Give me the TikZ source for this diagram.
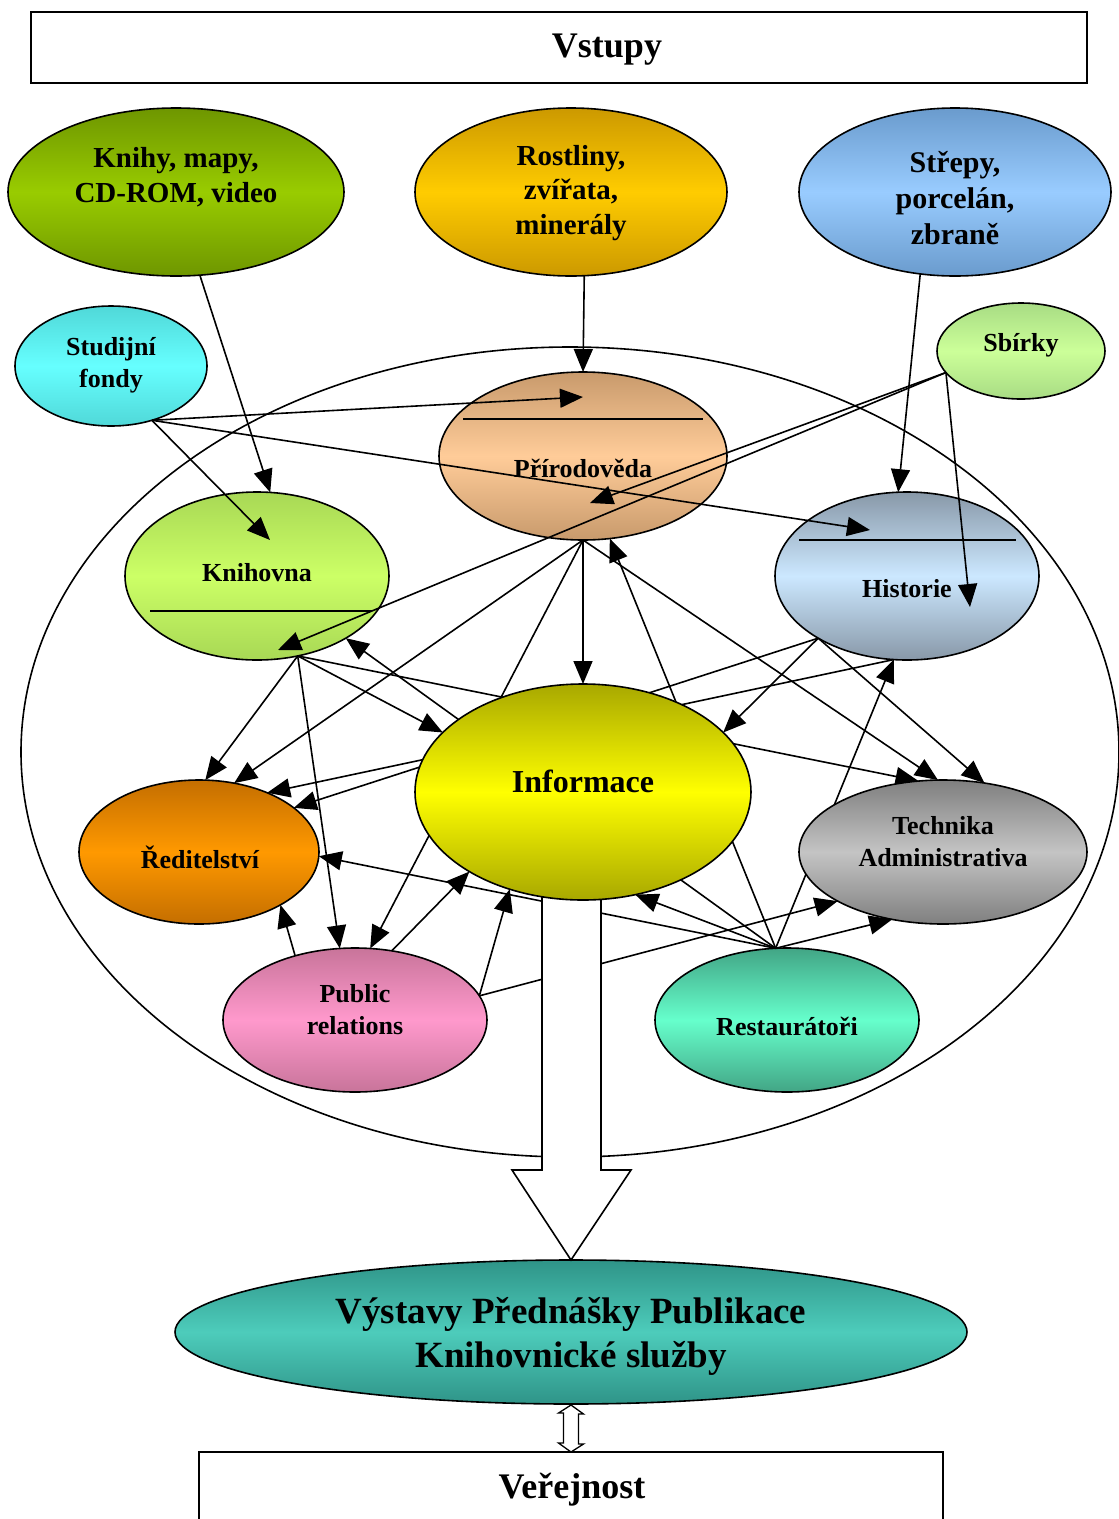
\documentclass[tikz,border=0pt]{standalone}
\usepackage{fontspec}
\setmainfont{Liberation Serif}
\usetikzlibrary{shapes.geometric,arrows.meta,calc}
\pgfdeclarelayer{back}
\pgfdeclarelayer{mid}
\pgfdeclarelayer{edges}
\pgfdeclarelayer{shaft}
\pgfsetlayers{back,mid,edges,shaft,main}
\definecolor{kmcA}{HTML}{6E9600}\definecolor{kmcB}{HTML}{99CC00}
\definecolor{rzmA}{HTML}{CC9900}\definecolor{rzmB}{HTML}{FFCC00}
\definecolor{spzA}{HTML}{6A9BCD}\definecolor{spzB}{HTML}{99CCFF}
\definecolor{sfA}{HTML}{50D8D8}\definecolor{sfB}{HTML}{66FFFF}
\definecolor{sbA}{HTML}{A8DC84}\definecolor{sbB}{HTML}{CCFF99}
\definecolor{prA}{HTML}{C89A6C}\definecolor{prB}{HTML}{FFCC99}
\definecolor{knA}{HTML}{A8D855}\definecolor{knB}{HTML}{CCFF66}
\definecolor{hiA}{HTML}{8898A8}\definecolor{hiB}{HTML}{CCE8FF}
\definecolor{infA}{HTML}{A8A800}\definecolor{infB}{HTML}{FFFF00}
\definecolor{redA}{HTML}{C46E00}\definecolor{redB}{HTML}{FF9900}
\definecolor{techA}{HTML}{7F7F7F}\definecolor{techB}{HTML}{C4C4C4}
\definecolor{pubA}{HTML}{C8749A}\definecolor{pubB}{HTML}{FF99CC}
\definecolor{resA}{HTML}{42A585}\definecolor{resB}{HTML}{66FFCC}
\definecolor{outA}{HTML}{2F9488}\definecolor{outB}{HTML}{4DCCBB}
\tikzset{
  ell/.style={ellipse, draw, line width=1.6pt, inner sep=0pt, outer sep=0pt},
  grad/.style 2 args={top color=#1, bottom color=#1, middle color=#2},
  arr/.style={-{Triangle[length=23pt,width=19pt]}, line width=1.6pt},
  ln/.style={line width=1.6pt},
  tsm/.style={font=\bfseries\fontsize{26}{32}\selectfont, align=center, inner sep=0pt},
  tmd/.style={font=\bfseries\fontsize{29}{34.5}\selectfont, align=center, inner sep=0pt},
  tinf/.style={font=\bfseries\fontsize{32}{38}\selectfont, align=center, inner sep=0pt},
  tbig/.style={font=\bfseries\fontsize{37}{44}\selectfont, align=center, inner sep=0pt},
  ttl/.style={font=\bfseries\fontsize{36}{42}\selectfont, align=center, inner sep=0pt},
  boxn/.style={draw, line width=1.6pt, inner sep=0pt, outer sep=0pt, fill=white},
}
\begin{document}
\begin{tikzpicture}[x=1pt,y=-1pt]
\useasboundingbox (0,0) rectangle (1119,1519);
% ---------- background ellipse ----------
\begin{pgfonlayer}{back}
\node[ell, minimum width=1098pt, minimum height=810pt] (big) at (570,752) {};
\end{pgfonlayer}
% ---------- boxes ----------
\node[boxn, minimum width=1056pt, minimum height=71pt] (vst) at (559,47.5) {};
\node[ttl] (vstT) at (607,50) {Vstupy};
\node[boxn, minimum width=744pt, minimum height=140pt, anchor=north] (ver) at (571,1452) {};
\node[ttl] (verT) at (572,1490) {Veřejnost};
% ---------- ellipses under the connectors ----------
\begin{pgfonlayer}{mid}
\node[ell, grad={kmcA}{kmcB}, minimum width=336pt, minimum height=168pt] (kmc) at (176,192) {};
\node[ell, grad={rzmA}{rzmB}, minimum width=312pt, minimum height=168pt] (rzm) at (571,192) {};
\node[ell, grad={spzA}{spzB}, minimum width=312pt, minimum height=168pt] (spz) at (955,192) {};
\node[ell, grad={sfA}{sfB}, minimum width=192pt, minimum height=120pt] (sf) at (111,366) {};
\node[ell, grad={sbA}{sbB}, minimum width=168pt, minimum height=96pt] (sb) at (1021,351) {};
\node[ell, grad={prA}{prB}, minimum width=288pt, minimum height=168pt] (pr) at (583,456) {};
\node[ell, grad={knA}{knB}, minimum width=264pt, minimum height=168pt] (kn) at (257,576) {};
\node[ell, grad={hiA}{hiB}, minimum width=264pt, minimum height=168pt] (hi) at (907,576) {};
\node[ell, grad={redA}{redB}, minimum width=240pt, minimum height=144pt] (red) at (199,852) {};
\node[ell, grad={pubA}{pubB}, minimum width=264pt, minimum height=144pt] (pub) at (355,1020) {};
\node[ell, grad={resA}{resB}, minimum width=264pt, minimum height=144pt] (res) at (787,1020) {};
\node[ell, grad={outA}{outB}, minimum width=792pt, minimum height=144pt] (out) at (571,1332) {};
\draw[ln] (463,419) -- (703,419);
\draw[ln] (150,611) -- (372,611);
\draw[ln] (799,540) -- (1016,540);
\end{pgfonlayer}
% ---------- ellipses above the connectors ----------
\node[ell, grad={infA}{infB}, minimum width=336pt, minimum height=216pt] (inf) at (583,792) {};
\node[ell, grad={techA}{techB}, minimum width=288pt, minimum height=144pt] (tech) at (943,852) {};
% ---------- inner end points ----------
\coordinate (prIn1) at (583,397);
\coordinate (prIn2) at (590,503);
\coordinate (knIn1) at (270,540);
\coordinate (knIn2) at (278,650);
\coordinate (hiIn1) at (870,530);
\coordinate (hiIn2) at (970,607);
% ---------- connectors ----------
\begin{pgfonlayer}{edges}
\draw[arr] (kmc.-74) -- (kn.81);
\draw[arr] (rzm.-81) -- (pr.north);
\draw[arr] (spz.-113) -- (hi.96);
\draw[arr] (sf.-53) -- (prIn1);
\draw[arr] (sf.-53) -- (knIn1);
\draw[arr] (sf.-53) -- (hiIn1);
\draw[arr] (sb.196) -- (prIn2);
\draw[arr] (sb.196) -- (knIn2);
\draw[arr] (sb.196) -- (hiIn2);
% from Přírodověda
\draw[arr] (pr.south) -- (inf.north);
\draw[arr] (pr.south) -- (red.63);
\draw[arr] (pr.south) -- (pub.78);
\draw[arr] (pr.south) -- (tech.94);
% from Knihovna
\draw[arr] (kn.-63) -- (red.85);
\draw[arr] (kn.-63) -- (pub.102);
\draw[arr] (kn.-63) -- (inf.157);
\draw[arr] (kn.-63) -- (tech.109);
% from Historie
\draw[arr] (hi.-145) -- (inf.23);
\draw[arr] (hi.-145) -- (red.25);
\draw[arr] (hi.-145) -- (tech.59);
\draw[arr] (hi.-99) -- (red.41);
% from Public relations
\draw[arr] (pub.133) -- (red.-33);
\draw[arr] (pub.62) -- (inf.-145);
\draw[arr] (pub.11) -- (inf.-127);
\draw[arr] (pub.11) -- (tech.-155);
% from Restaurátoři
\draw[arr] (res.99) -- (pr.-72);
\draw[arr] (res.99) -- (kn.-35);
\draw[arr] (res.99) -- (inf.-63);
\draw[arr] (res.99) -- (red.-2);
\draw[arr] (res.99) -- (hi.-99);
\draw[arr] (res.99) -- (tech.-127);
% Výstavy <-> Veřejnost (hollow double arrow)
\draw[line width=1.3pt, fill=white]
  ($(out.south)+(0,1)$) -- ++(12.5,9) -- ++(-5,0) -- ++(0,30) -- ++(5,0)
  -- (ver.north) -- ++(-12.5,-9) -- ++(5,0) -- ++(0,-30) -- ++(-5,0) -- cycle;
\end{pgfonlayer}
% ---------- big block arrow ----------
\begin{pgfonlayer}{shaft}
\draw[line width=1.6pt, fill=white]
  ($(inf.south)+(-41,-20)$) -- (542,1170) -- (512,1170) -- (out.north)
  -- (631,1170) -- (601,1170) -- ($(inf.south)+(18,-20)$);
\end{pgfonlayer}
% ---------- texts ----------
\node[tmd] (kmcT) at (176,177) {Knihy, mapy,\\CD-ROM, video};
\node[tmd] (rzmT) at (571,193) {Rostliny,\\zvířata,\\minerály};
\node[tmd, font=\bfseries\fontsize{30}{36}\selectfont] (spzT) at (955,198) {Střepy,\\porcelán,\\zbraně};
\node[tsm] (sfT) at (111,365) {Studijní\\fondy};
\node[tsm] (sbT) at (1021,345) {Sbírky};
\node[tsm] (prT) at (583,468) {Přírodověda};
\node[tsm] (knT) at (257,573) {Knihovna};
\node[tsm] (hiT) at (907,589) {Historie};
\node[tinf] (infT) at (583,781) {Informace};
\node[tsm] (redT) at (200,857) {Ředitelství};
\node[tsm] (techT) at (943,842) {Technika\\Administrativa};
\node[tsm] (pubT) at (355,1010) {Public\\relations};
\node[tsm] (resT) at (787,1026) {Restaurátoři};
\node[tbig] (outT) at (571,1336) {Výstavy Přednášky Publikace\\Knihovnické služby};
\end{tikzpicture}
\end{document}
